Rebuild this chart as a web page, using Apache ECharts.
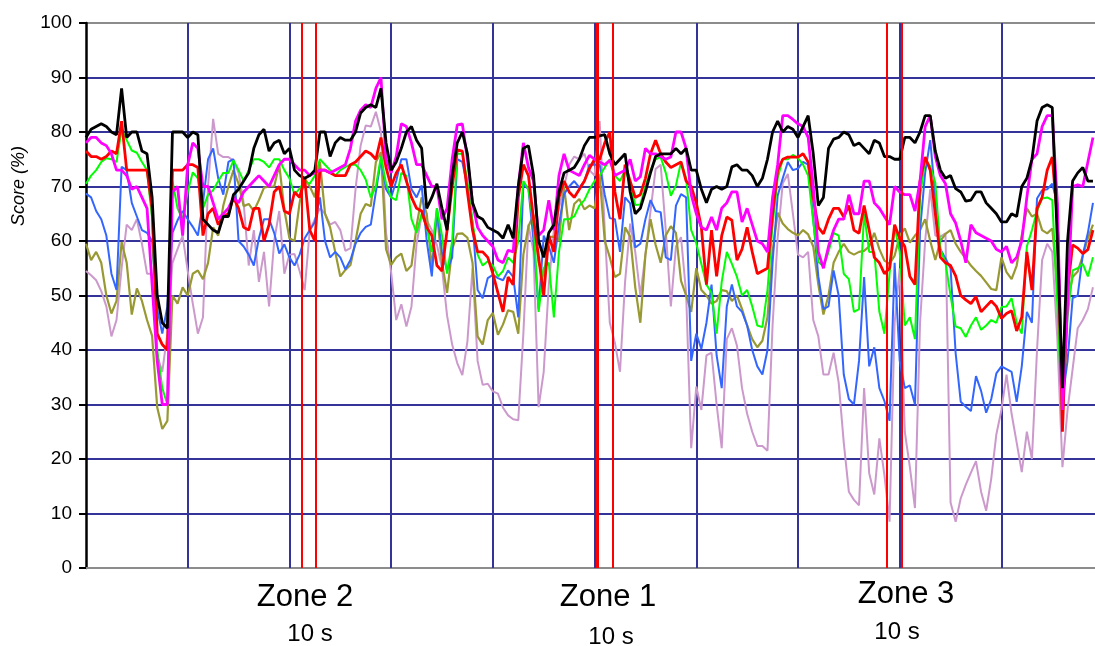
<!DOCTYPE html>
<html>
<head>
<meta charset="utf-8">
<script src="https://cdn.jsdelivr.net/npm/echarts@6/dist/echarts.min.js"></script>
<style>html,body{margin:0;padding:0;background:#fff}#c{width:1095px;height:646px}</style>
</head>
<body>
<div id="c"></div>
<script>
// sample step along the time axis (axis units, one grid column = 1 unit)
const sampleStep = 0.05;
const yTicks = [0,10,20,30,40,50,60,70,80,90,100];
const xGridLines = [1,2,3,4,5,6,7,8,9];
const zoneMarkers = [2.115, 2.262, 5.016, 5.03, 5.18, 7.868, 8.016];
const zoneLabels = ['Zone 2', 'Zone 1', 'Zone 3'];
const zoneDurations = ['10 s', '10 s', '10 s'];

const black = [
 79,80.5, 81,81.5, 81,80, 79.5,88, 79,80, 80,76.5, 76,68, 50,45, 44,80, 80,80,
 79,80, 79.5,64, 63,62, 61.5,64.5, 64.5,68.5, 69.5,71, 72.5,77, 79.5,80.5, 76.5,78, 78.5,76,
 77,73, 72,71.5, 72,73, 80,80, 75.5,78, 79,78.5, 78.5,80, 83.5,84.5, 85,84.5, 88,78,
 73,74.5, 77,80, 81,78.5, 77,66, 68,70.5, 66,62, 72,78, 80,76, 67,64.5, 64,62.5,
 62,61.5, 60.5,63, 60.5,70, 77,77.5, 72,60, 57,61.5, 63,69, 72.5,73, 73.5,75, 77.5,79,
 79,79.3, 79.5,76, 74,75, 76,69, 65,66, 69,72.5, 75.5,76, 76,76, 77,76, 77,73,
 73,69.5, 67,69.5, 70,69.5, 70,73.6, 74,73, 73,72, 70,71.5, 75,80, 82,80, 81,80.5,
 79,81, 83,76, 66.5,68, 77,78.7, 79,80, 79.5,77.5, 78,77, 76,78.5, 78,75.5, 75.5,75,
 75,79, 79,78, 80,83, 83,76.5, 73,71.5, 72,69.6, 69,67.3, 67.5,69, 69,67, 66,65,
 63.5,63.5, 65,64.5, 70,71.5, 75,82, 84.5,85, 84.5,60, 33,60, 71,72.5, 73.5,71, 71];
const magenta = [
 78,79, 79,78, 77.5,76, 73,73, 72,69.5, 70,68, 66,52, 38,30, 30,69, 70,61,
 74,78, 77,70, 70,67, 64,65, 66,68, 67,69, 70,71, 72,71, 70,72, 74,75,
 75,74, 73,73, 72,72.5, 73,73, 72.5,73, 73.5,74, 77,82, 84,85, 84.5,88, 90,75,
 72.5,75.5, 81.5,81, 78,74, 74,72, 70,70, 64,66, 75,81.3, 81.5,75, 67,62.5, 61,60,
 59,56.5, 56,58.3, 58,70, 78,73.5, 71,61, 62,67.5, 62,72, 76,73, 72.5,72, 74,75.7,
 75,74.5, 74,74.8, 72,72.5, 73,75, 71,71.8, 77,76, 76,75.5, 75,75.4, 80,80, 77,68.5,
 65,62.5, 62,64.4, 62,66, 67,69, 69,63.5, 66,63, 60,59.5, 58,68, 74,83, 83,82.3,
 81.5,81, 79,70, 58,55, 59,62, 64,64, 68.5,65, 65,71, 71,67, 66,64.5, 63,70,
 69,68.5, 68.5,65.5, 71,81, 83,75.5, 72,70.5, 65,63.3, 60,56, 63,61.5, 61,60.5, 60,58.5,
 58,59, 56,57, 60,68, 75,76, 81,83, 83,67, 29,48.5, 70,70.3, 70,74.5, 79];
const red = [
 76.5,75.5, 75.5,75, 75.5,76.5, 76,82, 73,73, 73,73, 73,66, 43,41, 40,73, 73,73,
 74,74, 73.5,61, 65,66, 63,64.5, 65,68, 66,62.5, 62,66, 66,60, 63,69, 70,65.5,
 65,69, 68,71.5, 62,60, 73,73, 72.5,72, 72,72, 74,74.5, 75.5,76.5, 76,75, 79,73.5,
 70,72.5, 74,71, 68,66, 65.5,62.5, 61,55.5, 54.5,62, 70,76.7, 76.5,69, 62,58, 58,57,
 54,50.5, 47,53.4, 52,68, 74,72, 64,57, 50,61, 58,68, 71,69, 68,69.5, 71,73.3,
 75,75, 78,80, 69,64, 74,71, 68,68.5, 71.5,76, 78.5,76, 74.5,73.5, 74,74.5, 71,70,
 67,62.5, 52,62, 53.5,61, 64.4,63.8, 56.5,58.5, 62.5,58, 54,54.5, 55,65, 73,75, 75.4,75.4,
 75.4,76, 74.5,68, 62.5,61.3, 64,66, 66,64.4, 66.5,62, 61.4,66.5, 62,57, 56,54, 55,63,
 60.5,59, 53.5,52, 71,75.4, 73,65, 57,56, 55.5,53.6, 50,49.2, 48.5,49.8, 47,48, 49,48,
 45.8,46.7, 47.2,43.5, 46,58, 51,66, 68,73, 75.4,64, 25,51, 59.3,58.7, 57.7,58.4, 62];
const green = [
 70.5,72, 73,74.5, 75.2,75, 74.5,80.5, 78.5,76.6, 76.2,74.5, 73,64, 40,33, 30,71, 66,64,
 69,72.6, 71.5,66, 68.5,69.3, 71,72.5, 72.5,74.8, 73,71, 73,75, 75,74.5, 73.5,75, 75,73,
 71.5,68.5, 69.6,71, 70.5,72, 75,74, 73,72, 73,73.6, 74,74, 73,71.3, 68,70, 75.5,70.5,
 68,67.5, 72.5,72, 64,61.5, 65,62.5, 58,66, 61,54, 60,76, 76,71, 63.5,57.5, 55.5,56.3,
 55.5,53.5, 54.5,57, 56,60, 71,69.5, 63,47, 55,56, 46,58, 64,64, 64.5,66.5, 67.5,69.5,
 71,72, 73.5,75, 72,71, 73,70.5, 66.6,66.7, 70,73, 75,75.4, 72.5,68.3, 70.2,74.5, 71.5,62,
 59.6,55.8, 52,50.5, 43,52.5, 58,55.8, 53.4,50, 51,48, 44.5,44.2, 51,63, 71.5,75, 75,75.8,
 75.2,74, 72,63.5, 56.2,55.3, 58,61.5, 61,54, 53,47, 47.5,65, 58,58, 47,43, 54,62.5,
 58,44.5, 46,42, 68,75, 73.7,70.7, 58.5,56, 50,44.3, 44,42.4, 44.5,46, 43.7,44.5, 45.5,45,
 47.9,48, 49.5,45, 43,59, 62,65.5, 67.8,68, 67.5,48, 27,46, 54.6,55, 55.8,53.5, 57];
const blue = [
 68.7,68, 65.5,64, 61,54, 51,73.6, 73,67, 64.5,62, 61.5,60, 47.5,43, 48,61.5, 63.8,65.5,
 64,62.6, 61,67, 75,77, 71.5,68.5, 74.5,75, 60,59, 57.5,55.5, 60.5,64, 64,61.5, 57.7,59.4,
 57,55.5, 57.5,60.5, 62,63.5, 68,60, 57,58, 57,54.8, 56.5,59.5, 61.5,62.6, 63,69, 75,69.5,
 68,71, 75,75, 69.5,68, 70.2,60, 53.5,66, 58,54.6, 57,75, 74.5,70, 63.5,51, 49.5,53.2,
 53.8,53.2, 52.8,54.6, 53.4,46, 70.5,69.5, 60,47.5, 61,59, 56,63, 68.6,70, 71,69.8, 71,74,
 74,74, 68.5,64.2, 64,58, 68,66.9, 58.8,59.5, 64,67.5, 65.5,65.3, 57,56.5, 66.5,68.6, 68,38,
 43,40.2, 45,52, 39,33, 48,52, 48,47, 44.5,40, 37,35.5, 40,56, 68.3,71.5, 74.5,73,
 73.3,74.5, 74,64, 53.5,47.5, 48,54.6, 50,35.5, 31,30, 38,53.4, 37,40.5, 33,30.6, 27,56,
 38,33, 33.5,30, 62,72.5, 78.5,68, 58.5,56.8, 55,39.4, 30.5,29.6, 28.8,35.2, 32.5,28.5, 31,35.7,
 37,36.5, 36,30.5, 37,47, 45,67.8, 69.3,69.5, 70.5,66.9, 31,38, 49.5,50, 57.5,61.5, 67];
const olive = [
 59.5,56.5, 58,56, 50,46.7, 49,59.8, 56,46.5, 51.3,49, 45.5,42.6, 29.5,25.5, 27,50, 48.5,51.5,
 50,54, 54.6,53, 56,62.5, 61,66.5, 70,73, 70.5,66.4, 66.8,65.5, 67.5,69.8, 70,70, 74,65.7,
 60.5,60, 67,71.5, 70,68, 74.5,65, 62.5,58, 53.5,54.7, 55.6,60, 65,66.8, 66.4,74.5, 76.3,58.5,
 55.6,57, 57.7,54.5, 55.5,62.8, 68,65, 55,65, 56,50.5, 58.5,61.3, 61.4,60.6, 56,42.5, 41,45.5,
 46.8,42.8, 44.7,47.3, 47,43, 57.5,62.7, 64.8,56, 53.5,60.7, 60.8,60, 70,62, 66.8,67.7, 65.8,66.5,
 66,72, 60,57, 53.4,54, 62.5,60.8, 51.5,45, 57.5,64, 59.3,56, 61,62.7, 61.5,52.7, 50,47,
 55,51, 50,48.5, 49,51, 50.8,49, 50,47.5, 44.5,42, 40.5,41.7, 46,58, 65.2,63.2, 62.2,61.5,
 61,62, 61.2,59, 52,46.5, 50,56, 58,59.5, 58,57.5, 58,58.2, 59,61.5, 58.5,56.4, 55.8,57.3,
 61,62.3, 59.7,61, 62,64, 60,56.5, 60,61.3, 62,59.5, 58,56.8, 55.5,54.5, 53.6,52.4, 51.2,51,
 57,54.3, 53,55.5, 61,66, 64.5,65, 62,61.4, 62.3,51.6, 31,48.5, 53.4,54.4, 57.3,60.5, 63];
const pink = [
 54.5,53.7, 52.8,50.8, 48,42.5, 45.5,55, 63,62, 64,59.5, 54,54, 39,36, 43,56, 58.5,61,
 54.5,48.5, 43,46, 70,82.4, 76,75.4, 75.4,74.7, 72.5,67, 55.5,62, 52.5,58, 48,60, 65.5,54,
 57.5,57.6, 54.5,51, 62,64, 66,65, 63,63.5, 62,58.2, 58.7,69.5, 77.5,81.2, 81,83.7, 80,61.5,
 54.3,45.5, 48.4,44.3, 48,59.5, 64.7,63.8, 62,59.3, 55,46.3, 41,37.6, 35.4,41.6, 55,38, 33.6,33.8,
 32.4,32, 29.4,28, 27.3,27.1, 43,63, 58,29.5, 36,52, 62,66, 70,74, 75.5,75, 76,73,
 72,82, 62,45, 41.3,36, 52.5,63.2, 58,50, 57.5,65.5, 73.2,74, 62,48, 59,60.7, 50.5,22,
 33.3,29, 39,39.5, 30,22, 42,44, 40.8,33, 28.3,25, 22.4,22.4, 21.5,44.5, 60.5,70.6, 72.3,65,
 57.5,57, 58,45.5, 42.5,35.5, 35.5,39.5, 34,23, 14,12.5, 11.5,33, 17.4,13.5, 23.8,17, 8.5,45,
 55,25, 18.5,11, 45,60, 69.5,61, 60.8,61.4, 12,8.5, 12.8,15.3, 17.5,19.6, 14,10.5, 16.4,24.5,
 29,35.5, 28.3,23, 17.6,25, 20,40, 56.5,59.5, 58,42, 18.5,29, 36.5,44, 45.5,47.5, 51.5];

function pairs(arr){ return arr.map((v,i)=>[+(i*sampleStep).toFixed(3), v]); }

const seriesDefs = [
  {name:'pink', data:pink, color:'#cc99cc', width:2},
  {name:'olive', data:olive, color:'#999933', width:2.2},
  {name:'blue', data:blue, color:'#3366ff', width:2},
  {name:'green', data:green, color:'#00ff00', width:2},
  {name:'red', data:red, color:'#ff0000', width:2.8},
  {name:'magenta', data:magenta, color:'#ff00ff', width:2.8},
  {name:'black', data:black, color:'#000000', width:2.8}
];

const navy = '#333399';
const chart = echarts.init(document.getElementById('c'), null, {renderer:'canvas'});

const series = [{
  type:'line', data:[], z:1, silent:true,
  markLine:{silent:true, z:1, symbol:'none', animation:false, label:{show:false},
    lineStyle:{color:navy, width:2, type:'solid'},
    data:xGridLines.map(v=>({xAxis:v}))}
}];
seriesDefs.forEach((s,k)=>{
  series.push({type:'line', name:s.name, data:pairs(s.data), showSymbol:false, symbol:'none',
    z:2+k, lineStyle:{color:s.color, width:s.width}, itemStyle:{color:s.color}, animation:false});
});
series.push({
  type:'line', data:[], z:20, silent:true,
  markLine:{silent:true, z:20, symbol:'none', animation:false, label:{show:false},
    lineStyle:{color:'#ff0000', width:2, type:'solid'},
    data:zoneMarkers.map(v=>({xAxis:v}))}
});

const splitColors = yTicks.map(v => (v===100 ? '#8c8c8c' : navy));

const zoneText = [
  {x:305, y:597, t:zoneLabels[0]}, {x:608, y:597, t:zoneLabels[1]}, {x:906, y:594, t:zoneLabels[2]}
];
const durText = [
  {x:310, y:634, t:zoneDurations[0]}, {x:611, y:637, t:zoneDurations[1]}, {x:897, y:632, t:zoneDurations[2]}
];
const graphics = [];
zoneText.forEach(o=>graphics.push({type:'text', x:o.x, y:o.y, style:{text:o.t, font:'31px "Liberation Sans", Arial, sans-serif', fill:'#000', textAlign:'center', textVerticalAlign:'middle'}}));
durText.forEach(o=>graphics.push({type:'text', x:o.x, y:o.y, style:{text:o.t, font:'24px "Liberation Sans", Arial, sans-serif', fill:'#000', textAlign:'center', textVerticalAlign:'middle'}}));
graphics.push({type:'text', x:19, y:186, rotation:Math.PI/2, style:{text:'Score (%)', font:'italic 18px "Liberation Sans", Arial, sans-serif', fill:'#000', textAlign:'center', textVerticalAlign:'middle'}});

chart.setOption({
  animation:false,
  backgroundColor:'#ffffff',
  grid:{left:86, right:0, top:23, bottom:78, containLabel:false},
  xAxis:{type:'value', min:0, max:9.92, axisLine:{show:true, onZero:false, lineStyle:{color:'#8c8c8c', width:2}},
    axisTick:{show:false}, axisLabel:{show:false}, splitLine:{show:false}},
  yAxis:{type:'value', min:0, max:100, interval:10,
    axisLine:{show:true, lineStyle:{color:'#000', width:2.5}},
    axisTick:{show:true, length:7, lineStyle:{color:'#000', width:2}},
    axisLabel:{color:'#000', fontSize:19, margin:14, fontFamily:'"Liberation Sans", Arial, sans-serif'},
    splitLine:{show:true, lineStyle:{color:splitColors, width:2}}},
  series:series,
  graphic:graphics
});
</script>
</body>
</html>
